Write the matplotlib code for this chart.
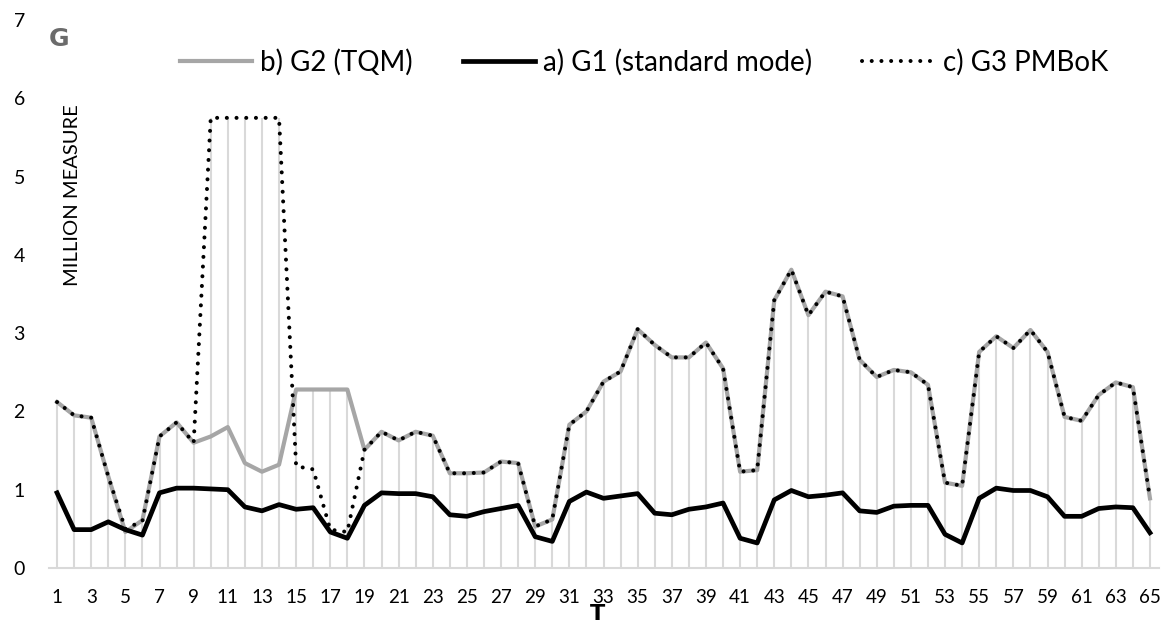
import numpy as np
import matplotlib.pyplot as plt

plt.rcParams['font.family'] = ['Lato', 'DejaVu Sans']

t = np.arange(1, 66)

# a) G1 (standard mode)
g1 = [0.96, 0.49, 0.49, 0.59, 0.49, 0.42, 0.96, 1.02, 1.02, 1.01,
      1.00, 0.78, 0.73, 0.81, 0.75, 0.77, 0.46, 0.38, 0.80, 0.96,
      0.95, 0.95, 0.91, 0.68, 0.66, 0.72, 0.76, 0.80, 0.40, 0.34,
      0.85, 0.97, 0.89, 0.92, 0.95, 0.70, 0.68, 0.75, 0.78, 0.83,
      0.38, 0.32, 0.87, 0.99, 0.91, 0.93, 0.96, 0.73, 0.71, 0.79,
      0.80, 0.80, 0.43, 0.32, 0.89, 1.02, 0.99, 0.99, 0.91, 0.66,
      0.66, 0.76, 0.78, 0.77, 0.45]

# b) G2 (TQM)
g2 = [2.12, 1.95, 1.92, 1.17, 0.46, 0.61, 1.68, 1.86, 1.60, 1.68,
      1.80, 1.34, 1.23, 1.32, 2.28, 2.28, 2.28, 2.28, 1.51, 1.74,
      1.63, 1.74, 1.69, 1.21, 1.21, 1.22, 1.36, 1.34, 0.53, 0.62,
      1.83, 2.00, 2.38, 2.51, 3.05, 2.85, 2.69, 2.69, 2.88, 2.55,
      1.23, 1.25, 3.42, 3.81, 3.23, 3.53, 3.47, 2.66, 2.44, 2.53,
      2.50, 2.34, 1.09, 1.05, 2.76, 2.96, 2.81, 3.04, 2.76, 1.93,
      1.88, 2.21, 2.37, 2.31, 0.89]

# c) G3 PMBoK
g3 = [2.12, 1.95, 1.92, 1.17, 0.50, 0.60, 1.68, 1.86, 1.60, 5.75,
      5.75, 5.75, 5.75, 5.75, 1.30, 1.26, 0.49, 0.46, 1.51, 1.74,
      1.63, 1.74, 1.69, 1.21, 1.21, 1.22, 1.36, 1.34, 0.53, 0.62,
      1.83, 2.00, 2.38, 2.51, 3.05, 2.85, 2.69, 2.69, 2.88, 2.55,
      1.23, 1.25, 3.42, 3.81, 3.23, 3.53, 3.47, 2.66, 2.44, 2.53,
      2.50, 2.34, 1.09, 1.05, 2.76, 2.96, 2.81, 3.04, 2.76, 1.93,
      1.88, 2.21, 2.37, 2.31, 0.89]

fig = plt.figure(figsize=(11.69, 6.26), dpi=100)
ax = fig.add_axes([48.5 / 1169, 1 - 568 / 626, 1110 / 1169, 548 / 626])

# drop lines from the highest series down to the axis
top = np.maximum(np.maximum(g1, g2), g3)
ax.vlines(t, 0, top, color='#d9d9d9', lw=1.5, zorder=1)

ax.plot(t, g2, color='#a6a6a6', lw=3.0, solid_joinstyle='round',
        label='b) G2 (TQM)', zorder=2)
ax.plot(t, g1, color='black', lw=3.4, solid_joinstyle='round',
        label='a) G1 (standard mode)', zorder=3)
ax.plot(t, g3, color='black', lw=2.9, linestyle=(0, (0.01, 2.4)),
        dash_capstyle='round', label='c) G3 PMBoK', zorder=4)

ax.set_xlim(0.5, 65.5)
ax.set_ylim(0, 7)
ax.set_xticks(np.arange(1, 66, 2))
ax.set_yticks(range(8))
ax.tick_params(axis='x', length=0, pad=15, labelsize=13.5)
ax.tick_params(axis='y', length=0, pad=17, labelsize=14)
for s in ['top', 'right', 'left']:
    ax.spines[s].set_visible(False)
ax.spines['bottom'].set_color('#d9d9d9')
ax.spines['bottom'].set_linewidth(1.5)

ax.legend(loc='center left', bbox_to_anchor=(120 / 1110, 1 - 42 / 548),
          ncol=3, frameon=False, fontsize=20, handlelength=2.6,
          handletextpad=0.3, columnspacing=1.8, borderaxespad=0)

fig.text(72 / 1169, 1 - 195 / 626, 'MILLION MEASURE', rotation=90,
         ha='center', va='center', fontsize=14.5)
fig.text(59 / 1169, 1 - 39 / 626, 'G', ha='center', va='center',
         fontsize=18, fontweight='heavy', color='#6b6b6b',
         family='DejaVu Sans')
fig.text(597 / 1169, 1 - 624 / 626, 'T', ha='center', va='bottom',
         fontsize=16, fontweight='heavy', color='black',
         family='DejaVu Sans')

plt.savefig('out.png')
